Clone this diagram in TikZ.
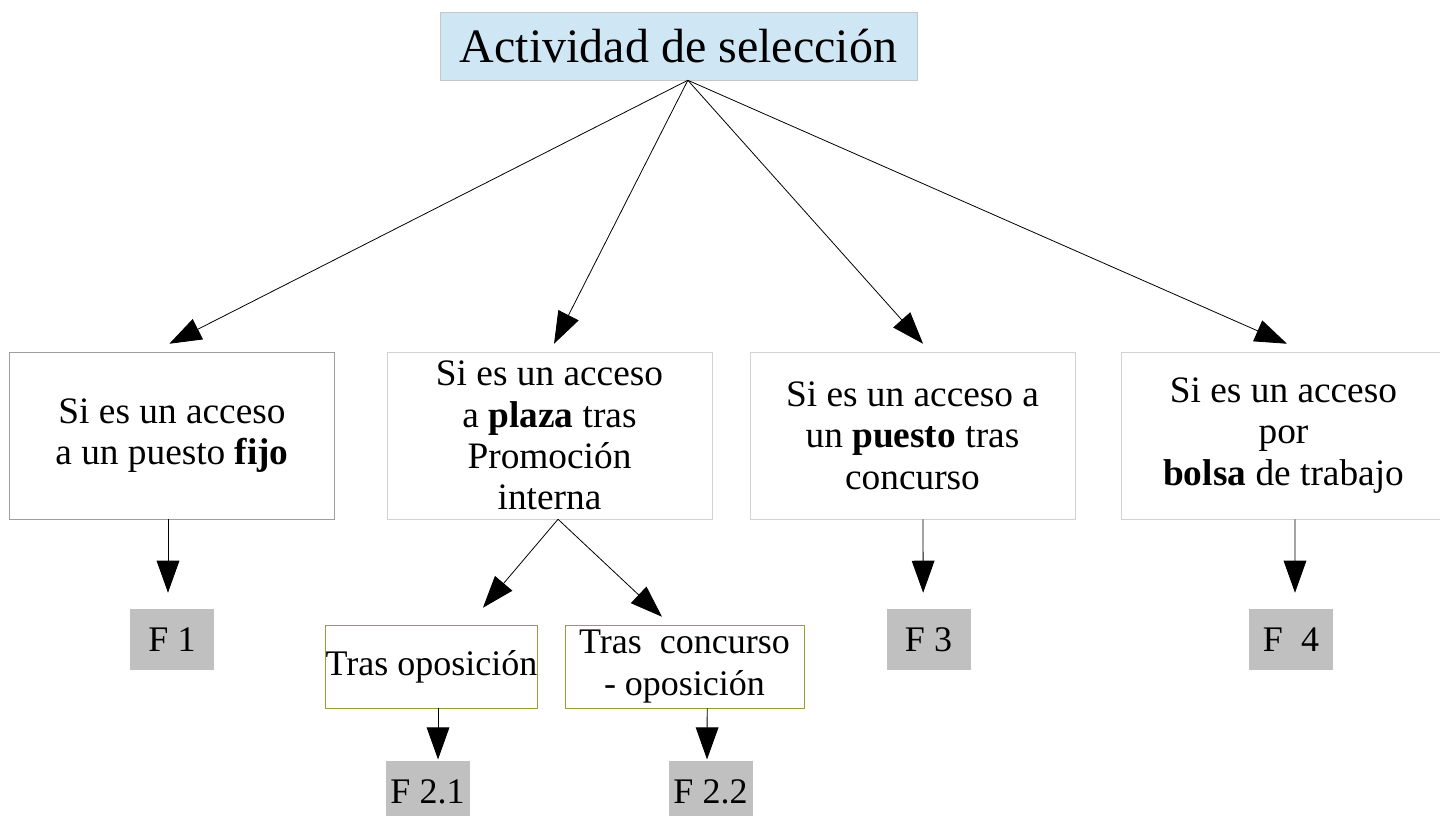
\documentclass[tikz,border=0pt]{standalone}
\usepackage{fontspec}
\setmainfont{Liberation Serif}
\usepackage{tikz}
\usetikzlibrary{shapes,arrows.meta,positioning}
\definecolor{titleblue}{HTML}{CFE7F5}
\definecolor{olivebox}{HTML}{9C9C3C}
\definecolor{formgray}{HTML}{C0C0C0}
\tikzstyle{line} = [draw, line width=0.6pt, -{Triangle[length=24pt,width=17pt]}]
\tikzstyle{titlebox} = [rectangle, draw=gray!45, fill=titleblue, minimum width=357.75pt, minimum height=51pt, inner sep=0pt, font=\fontsize{36pt}{42pt}\selectfont]
\tikzstyle{block} = [rectangle, draw=gray!35, fill=white, align=center, minimum width=243.75pt, minimum height=125.25pt, inner sep=0pt, font=\fontsize{28pt}{31pt}\selectfont]
\tikzstyle{subblock} = [rectangle, draw=olivebox, align=center, minimum height=62.25pt, inner sep=0pt, font=\fontsize{27pt}{31pt}\selectfont]
\tikzstyle{form} = [rectangle, fill=formgray, minimum width=63pt, minimum height=45.75pt, inner sep=0pt, font=\fontsize{27pt}{31pt}\selectfont]

\begin{document}
\begin{tikzpicture}[x=0.75pt, y=-0.75pt]
			\useasboundingbox (0, 0) rectangle (1440, 816);
			% Place nodes
			\node [titlebox] (seleccion) at (678.5, 46) {Actividad de selección};
			\node [block, draw=gray!75] (fijo) at (172, 435.5) {Si es un acceso\\a un puesto \textbf{fijo}};
			\node [block] (plaza) at (549.5, 435.5) {Si es un acceso\\a \textbf{plaza} tras\\Promoción\\interna};
			\node [block] (puesto) at (912.5, 435.5) {Si es un acceso a\\un \textbf{puesto} tras\\concurso};
			\node [block] (bolsa) at (1283.5, 435.5) {Si es un acceso\\por\\\textbf{bolsa} de trabajo};
			\node [subblock, minimum width=156.75pt] (oposicion) at (431.5, 666.5) {Tras oposición};
			\node [subblock, minimum width=179.25pt] (concurso) at (684.5, 666.5) {Tras\ \ concurso\\- oposición};
			\node [form] (f1) at (172, 639.5) {F 1};
			\node [form] (f21) at (427.5, 791.5) {F 2.1};
			\node [form] (f22) at (710.5, 791.5) {F 2.2};
			\node [form] (f3) at (928.5, 639.5) {F 3};
			\node [form] (f4) at (1291, 639.5) {F\ \ 4};

			% Draw edges
			\path [line] ([xshift=7pt]seleccion.south) -- ([xshift=-2pt, yshift=6pt]fijo.north);
			\path [line] ([xshift=7pt]seleccion.south) -- ([xshift=3.4pt, yshift=6pt]plaza.north);
			\path [line] ([xshift=7pt]seleccion.south) -- ([xshift=7.9pt, yshift=6pt]puesto.north);
			\path [line] ([xshift=7pt]seleccion.south) -- ([xshift=2.6pt, yshift=6pt]bolsa.north);
			\path [line] ([xshift=-3pt]fijo.south) -- ([xshift=-3pt, yshift=12pt]f1.north);
			\path [line] ([xshift=6.4pt]plaza.south) -- ([xshift=38.6pt, yshift=12.75pt]oposicion.north);
			\path [line] ([xshift=6.4pt]plaza.south) -- ([xshift=-16.9pt, yshift=6pt]concurso.north);
			\path [line] ([xshift=4.9pt]oposicion.south) -- ([xshift=7.9pt, yshift=1pt]f21.north);
			\path [line] ([xshift=17pt]concurso.south) -- ([xshift=-2.6pt, yshift=1pt]f22.north);
			\path [line] ([xshift=7.9pt]puesto.south) -- ([xshift=-4pt, yshift=12pt]f3.north);
			\path [line] ([xshift=8.6pt]bolsa.south) -- ([xshift=3pt, yshift=12pt]f4.north);
		\end{tikzpicture}
\end{document}
